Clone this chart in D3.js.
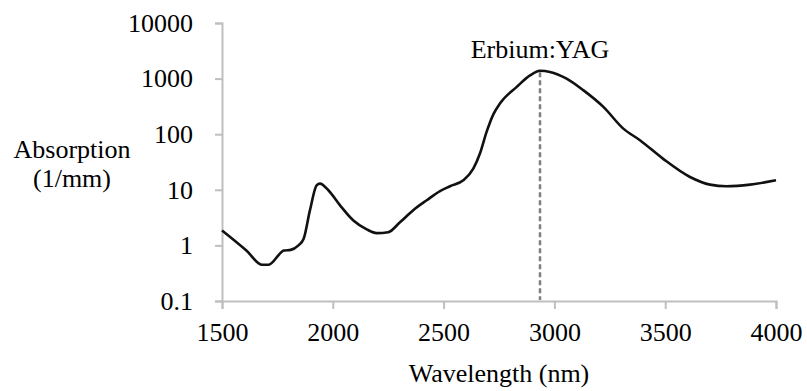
<!DOCTYPE html>
<html>
<head>
<meta charset="utf-8">
<script src="https://cdn.jsdelivr.net/npm/d3@7"></script>
<style>
  html, body { margin: 0; padding: 0; background: #fff; }
</style>
</head>
<body>
<svg id="chart" width="807" height="391"></svg>
<script>
// absorption spectrum of water
const wavelength = [1500, 1610, 1680, 1710, 1780, 1810, 1845, 1868, 1897, 1927, 1942, 1980, 2032, 2093, 2153, 2198, 2250, 2303, 2363, 2424, 2484, 2529, 2589, 2634, 2664, 2694, 2725, 2755, 2830, 2890, 2935, 2980, 3055, 3130, 3221, 3311, 3386, 3491, 3612, 3702, 3777, 3883, 4000];
const absorption = [1.86, 0.81, 0.45, 0.45, 0.81, 0.83, 1.0, 1.3, 4.3, 12, 12.9, 9.8, 5.3, 2.8, 1.94, 1.66, 1.73, 2.6, 4.3, 6.5, 9.5, 11.6, 14.8, 24, 45, 110, 230, 360, 710, 1140, 1380, 1320, 1000, 620, 310, 126, 78, 36, 17, 12.4, 11.6, 12.4, 14.8];
const xTicks = [1500, 2000, 2500, 3000, 3500, 4000];
const yTicks = [0.1, 1, 10, 100, 1000, 10000];
const yTickLabels = ["0.1", "1", "10", "100", "1000", "10000"];
const laserLine = 2935;
const laserLabel = "Erbium:YAG";

const font = "Liberation Serif";
const svg = d3.select("#chart");
const plot = { left: 222, right: 776, top: 23, bottom: 301 };
const axisColor = "#bfbfbf";

const x = d3.scaleLinear().domain([1500, 4000]).range([plot.left, plot.right]);
const y = d3.scaleLog().domain([0.1, 10000]).range([plot.bottom, plot.top]);

// x axis
const gx = svg.append("g")
  .attr("transform", `translate(0,${plot.bottom})`)
  .call(d3.axisBottom(x).tickValues(xTicks).tickSize(8).tickPadding(14).tickFormat(d3.format("d")));
gx.attr("font-family", font).attr("font-size", 26);
gx.select(".domain").attr("stroke", axisColor).attr("stroke-width", 2);
gx.selectAll(".tick line").attr("stroke", axisColor).attr("stroke-width", 2);

// y axis
const gy = svg.append("g")
  .attr("transform", `translate(${plot.left},0)`)
  .call(d3.axisLeft(y).tickValues(yTicks).tickSize(7).tickPadding(22)
    .tickFormat((d, i) => yTickLabels[i]));
gy.attr("font-family", font).attr("font-size", 26);
gy.select(".domain").attr("stroke", axisColor).attr("stroke-width", 2);
gy.selectAll(".tick line").attr("stroke", axisColor).attr("stroke-width", 2);

// dashed marker at the laser wavelength
svg.append("line")
  .attr("x1", x(laserLine)).attr("x2", x(laserLine))
  .attr("y1", y(1300)).attr("y2", plot.bottom - 1)
  .attr("stroke", "#7f7f7f")
  .attr("stroke-width", 2.5)
  .attr("stroke-dasharray", "5,3");

// spectrum
const points = wavelength.map((w, i) => [w, absorption[i]]);
svg.append("path")
  .datum(points)
  .attr("fill", "none")
  .attr("stroke", "#111")
  .attr("stroke-width", 2.6)
  .attr("stroke-linejoin", "round")
  .attr("d", d3.line()
    .x(d => x(d[0]))
    .y(d => y(d[1]))
    .curve(d3.curveMonotoneX));

// annotation
svg.append("text")
  .attr("x", x(laserLine))
  .attr("y", 58)
  .attr("text-anchor", "middle")
  .attr("font-family", font)
  .attr("font-size", 26)
  .text(laserLabel);

// axis titles
svg.append("text")
  .attr("x", (plot.left + plot.right) / 2)
  .attr("y", 382)
  .attr("text-anchor", "middle")
  .attr("font-family", font)
  .attr("font-size", 26)
  .text("Wavelength (nm)");

const yt = svg.append("text")
  .attr("text-anchor", "middle")
  .attr("font-family", font)
  .attr("font-size", 26);
yt.append("tspan").attr("x", 72).attr("y", 158).text("Absorption");
yt.append("tspan").attr("x", 72).attr("y", 187).text("(1/mm)");
</script>
</body>
</html>
